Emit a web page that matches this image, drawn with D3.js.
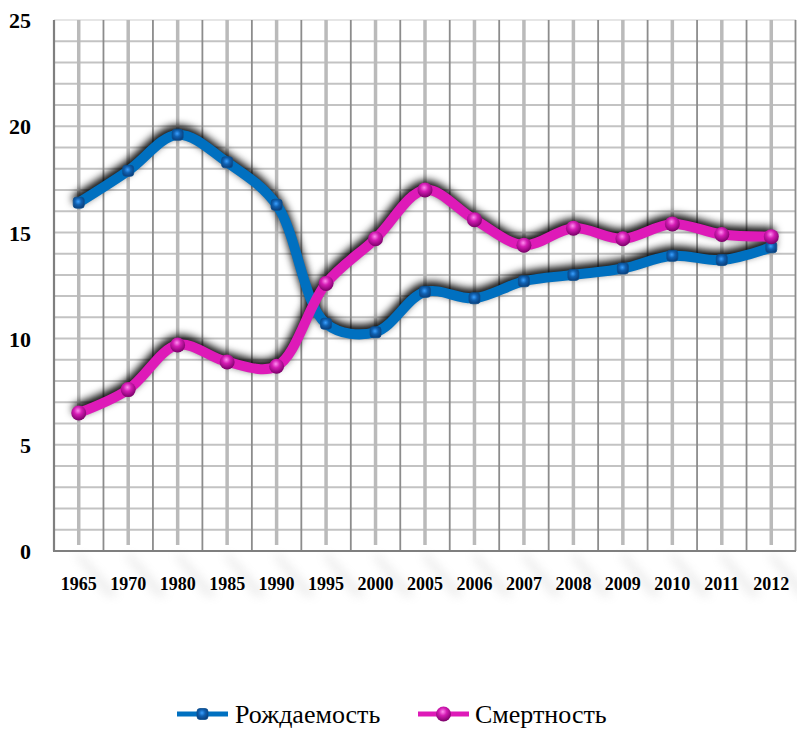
<!DOCTYPE html>
<html><head><meta charset="utf-8">
<script src="https://cdn.jsdelivr.net/npm/d3@7"></script>
<style>html,body{margin:0;padding:0;background:#fff;}svg{display:block;}</style>
</head><body>
<svg id="chart" width="797" height="729"></svg>
<script>
const years = ["1965","1970","1980","1985","1990","1995","2000","2005","2006","2007","2008","2009","2010","2011","2012"];
const birthRate = [16.4,17.9,19.6,18.3,16.3,10.7,10.3,12.2,11.9,12.7,13.0,13.3,13.9,13.7,14.3];
const deathRate = [6.5,7.6,9.7,8.9,8.7,12.6,14.7,17.0,15.6,14.4,15.2,14.7,15.4,14.9,14.8];
const yTicks = [0,5,10,15,20,25];
const seriesNames = ["Рождаемость","Смертность"];

(function(){
const svg = d3.select("#chart");
const pL = 54, pR = 796, pT = 20, pB = 551;
const x = d3.scaleBand().domain(years).range([pL, pR]);
const y = d3.scaleLinear().domain([0, 25]).range([pB, pT]);
const serif = "'Liberation Serif','Times New Roman',Times,serif";

const defs = svg.append("defs");
const f = defs.append("filter").attr("id","shadow").attr("x","-10%").attr("y","-20%").attr("width","120%").attr("height","140%");
f.append("feGaussianBlur").attr("in","SourceAlpha").attr("stdDeviation",4.5).attr("result","b");
f.append("feOffset").attr("in","b").attr("dx",-1).attr("dy",-4).attr("result","o");
f.append("feComponentTransfer").attr("in","o").attr("result","s")
  .append("feFuncA").attr("type","linear").attr("slope",1.1);
f.append("feMerge").append("feMergeNode").attr("in","s");

const gB = defs.append("radialGradient").attr("id","gBlue").attr("cx","45%").attr("cy","40%").attr("r","65%");
gB.append("stop").attr("offset","0%").attr("stop-color","#3aa0ff");
gB.append("stop").attr("offset","45%").attr("stop-color","#1060b0");
gB.append("stop").attr("offset","100%").attr("stop-color","#0a3d78");
const gM = defs.append("radialGradient").attr("id","gMag").attr("cx","45%").attr("cy","35%").attr("r","65%");
gM.append("stop").attr("offset","0%").attr("stop-color","#ff8cf0");
gM.append("stop").attr("offset","40%").attr("stop-color","#d41cb4");
gM.append("stop").attr("offset","100%").attr("stop-color","#7a0068");

// reflection under axis
const refl = svg.append("g").attr("opacity",0.18);
years.forEach(yr => {
  const cx = x(yr) + x.bandwidth()/2;
  refl.append("path").attr("d", `M${cx-4},${pB+4} L${cx+4},${pB+4} L${cx+40},${pB+45} L${cx+28},${pB+45} Z`).attr("fill","#999").style("filter","blur(5px)");
});

// horizontal grid
const hLines = d3.range(1, 26);
svg.append("g").selectAll("line").data(hLines).join("line")
  .attr("x1", pL).attr("x2", pR).attr("y1", d=>y(d)).attr("y2", d=>y(d))
  .attr("stroke", d => d===25 ? "#e6e6e6" : "#c3c3c3").attr("stroke-width", 2);
// center verticals
svg.append("g").selectAll("line").data(years).join("line")
  .attr("x1", d=>x(d)+x.bandwidth()/2).attr("x2", d=>x(d)+x.bandwidth()/2)
  .attr("y1", pT).attr("y2", pB-6)
  .attr("stroke","#bababa").attr("stroke-width",3.5);
// boundary verticals
const bounds = years.slice(1).map(d => x(d)).concat([pR-0.5]);
svg.append("g").selectAll("line").data(bounds).join("line")
  .attr("x1", d=>d).attr("x2", d=>d)
  .attr("y1", pT).attr("y2", pB)
  .attr("stroke","#8c8c8c").attr("stroke-width",1.8);
// axes lines
svg.append("line").attr("x1",pL).attr("x2",pL).attr("y1",pT).attr("y2",pB).attr("stroke","#7f7f7f").attr("stroke-width",2.2);
svg.append("line").attr("x1",pL-1).attr("x2",pR).attr("y1",pB).attr("y2",pB).attr("stroke","#7f7f7f").attr("stroke-width",2.2);

// y labels
const yAxis = d3.axisLeft(y).tickValues(yTicks).tickSize(0).tickPadding(0);
const ya = svg.append("g").attr("transform",`translate(${pL-23},0)`).call(yAxis);
ya.select(".domain").remove();
ya.selectAll("text").attr("font-family",serif).attr("font-weight","bold").attr("font-size",22).attr("fill","#000").attr("dy","0.35em");

// x labels
const xAxis = d3.axisBottom(x).tickSize(0).tickPadding(0);
const xa = svg.append("g").attr("transform",`translate(0,${pB+26})`).call(xAxis);
xa.select(".domain").remove();
xa.selectAll("text").attr("font-family",serif).attr("font-weight","bold").attr("font-size",18).attr("fill","#000").attr("dy","0.71em");

const line = d3.line().x((d,i)=>x(years[i])+x.bandwidth()/2).y(d=>y(d)).curve(d3.curveCatmullRom.alpha(0.5));

const series = [
  {name: seriesNames[0], values: birthRate, color:"#0070c0", grad:"url(#gBlue)", shape:"sq"},
  {name: seriesNames[1], values: deathRate, color:"#de1ab8", grad:"url(#gMag)", shape:"ci"}
];

series.forEach(s => {
  svg.append("path").attr("d", line(s.values)).attr("fill","none").attr("stroke","#000").attr("stroke-width",10)
    .attr("stroke-linecap","round").attr("filter","url(#shadow)");
});
series.forEach(s => {
  svg.append("path").attr("d", line(s.values)).attr("fill","none").attr("stroke",s.color).attr("stroke-width",10).attr("stroke-linejoin","round");
});
function marker(g, cx, cy, s){
  if (s.shape==="sq"){
    g.append("rect").attr("x",cx-5.5).attr("y",cy-5.5).attr("width",11).attr("height",11).attr("rx",3).attr("fill",s.grad).attr("stroke","#0b4f8f").attr("stroke-width",0.8);
  } else {
    g.append("circle").attr("cx",cx).attr("cy",cy).attr("r",7.5).attr("fill",s.grad);
  }
}
series.forEach(s => {
  const g = svg.append("g");
  s.values.forEach((v,i) => marker(g, x(years[i])+x.bandwidth()/2, y(v), s));
});

// legend
const legY = 714;
const legItems = [{x0:177, x1:228, tx:235}, {x0:418, x1:469, tx:475}];
series.forEach((s,i) => {
  const L = legItems[i];
  svg.append("line").attr("x1",L.x0).attr("x2",L.x1).attr("y1",legY).attr("y2",legY).attr("stroke",s.color).attr("stroke-width",5);
  marker(svg, (L.x0+L.x1)/2, legY, s);
  svg.append("text").attr("x",L.tx).attr("y",legY).attr("dy","0.35em").attr("font-family",serif).attr("font-size",26).attr("fill","#000").text(s.name);
});
})();
</script>
</body></html>
